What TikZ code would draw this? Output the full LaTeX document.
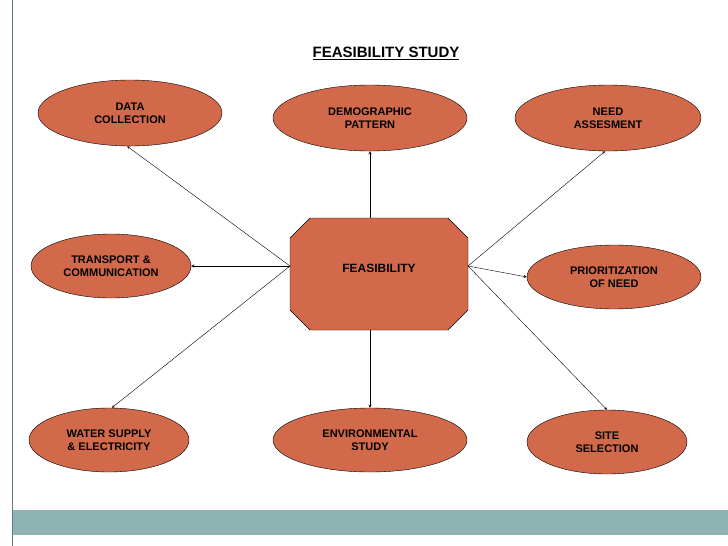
\documentclass[tikz,border=0pt]{standalone}
\usepackage{fontspec}
\setmainfont{Liberation Sans}
\usepackage{tikz}
\usetikzlibrary{arrows,positioning,shapes,calc}
\definecolor{brick}{HTML}{D2694B}
\definecolor{band}{HTML}{8FB3B3}

\begin{document}
\begin{tikzpicture}[x=1pt,y=-1pt,
    topic/.style={ellipse, draw=black, fill=brick, font=\bfseries\fontsize{11}{13}\selectfont, align=center, inner sep=0pt},
    link/.style={->, >=stealth, thin}]
    \useasboundingbox (0,0) rectangle (728,546);
    \fill[white] (0,0) rectangle (728,546);

    % Footer band
    \fill[band] (12,510) rectangle (728,535);
    \draw[band!70!black, thin] (12,0) -- (12,546);

    % Title
    \node[font=\bfseries\fontsize{15}{18}\selectfont] (title) at (386,53) {\underline{FEASIBILITY STUDY}};

    % Central octagon
    \coordinate (fl) at (290,266);
    \coordinate (fr) at (468,266);
    \coordinate (ft) at (370,218);
    \coordinate (fb) at (370,330);
    \draw[fill=brick] (310,218) -- (448,218) -- (468,238) -- (468,310) -- (448,330)
        -- (310,330) -- (290,310) -- (290,238) -- cycle;
    \node[font=\bfseries\fontsize{12}{14}\selectfont] (feas) at (379,268) {FEASIBILITY};

    % Topics
    \node[topic, minimum width=184, minimum height=66] (data) at (130,113) {DATA\\COLLECTION};
    \node[topic, minimum width=194, minimum height=66] (demo) at (370,118) {DEMOGRAPHIC\\PATTERN};
    \node[topic, minimum width=186, minimum height=66] (need) at (608,118) {NEED\\ASSESMENT};
    \node[topic, minimum width=160, minimum height=64] (trans) at (111,266) {TRANSPORT \&\\COMMUNICATION};
    \node[topic, minimum width=174, minimum height=64] (prio) at (614,277) {PRIORITIZATION\\OF NEED};
    \node[topic, minimum width=160, minimum height=64] (water) at (109,440) {WATER SUPPLY\\\& ELECTRICITY};
    \node[topic, minimum width=194, minimum height=64] (env) at (370,440) {ENVIRONMENTAL\\STUDY};
    \node[topic, minimum width=160, minimum height=64] (site) at (607,442) {SITE\\SELECTION};

    % Connectors
    \draw[link] (fl) -- (data.-95);
    \draw[link] (fl) -- (trans.east);
    \draw[link] (fl) -- (water.85);
    \draw[link] (ft) -- (demo.south);
    \draw[link] (fb) -- (env.north);
    \draw[link] (fr) -- (need.-95);
    \draw[link] (fr) -- (prio.west);
    \draw[link] (fr) -- (site.north);
\end{tikzpicture}
\end{document}
